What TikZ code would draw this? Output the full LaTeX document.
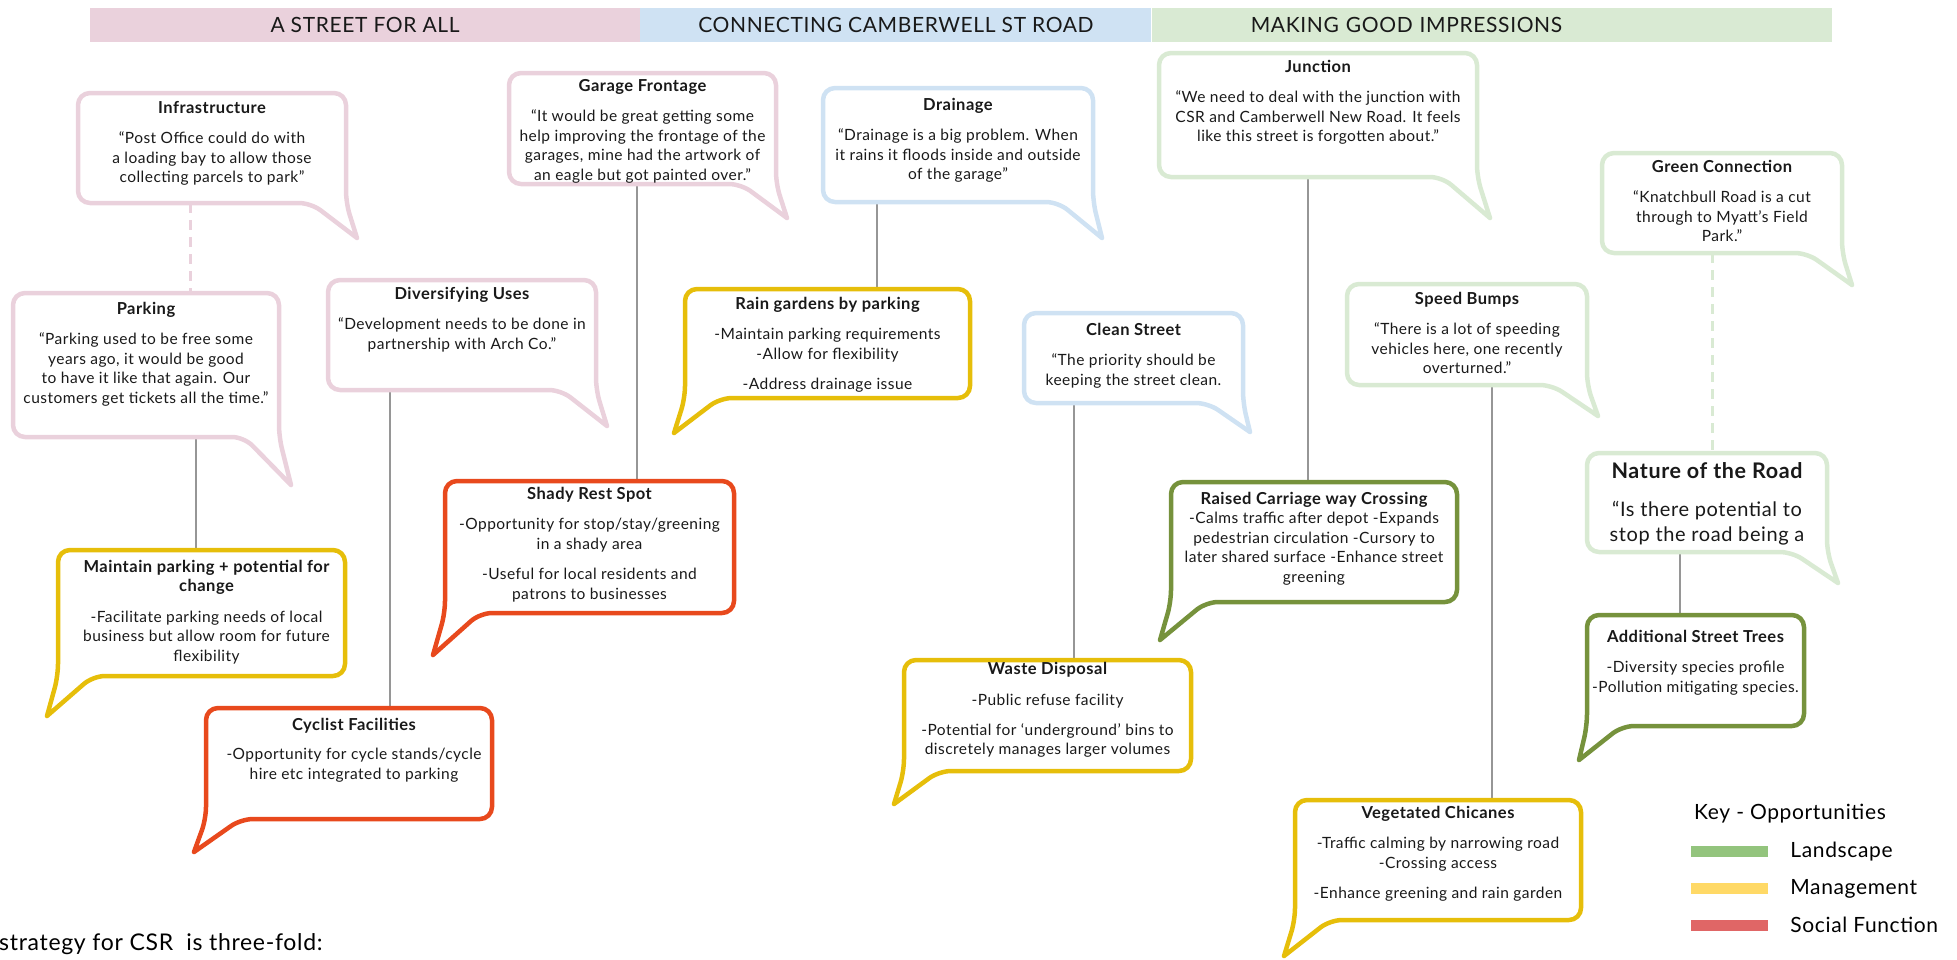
\documentclass[tikz,border=0pt]{standalone}
\usepackage{fontspec}
\setmainfont{Lato}[LetterSpace=3]
\usetikzlibrary{positioning, calc}
\definecolor{pinkline}{HTML}{EAD1DC}
\definecolor{blueline}{HTML}{CFE2F3}
\definecolor{greenline}{HTML}{D9EAD3}
\definecolor{goldline}{HTML}{E6BE0A}
\definecolor{redline}{HTML}{E8491D}
\definecolor{oliveline}{HTML}{76923C}
\definecolor{keygreen}{HTML}{93C47D}
\definecolor{keyyellow}{HTML}{FFD966}
\definecolor{keyred}{HTML}{E06666}
\definecolor{linkgrey}{RGB}{150,150,150}
\newcommand{\boxtitle}[1]{{\fontsize{16.5}{19.5}\selectfont\bfseries #1}}

\begin{document}
\begin{tikzpicture}[
  x=1pt, y=-1pt,
  box/.style={rectangle, inner sep=0pt, outer sep=0pt},
  bubble/.style={line width=4.5pt, rounded corners=12pt, line cap=round, line join=round},
  txt/.style={align=center, inner sep=0pt, text=black!90, font=\fontsize{15.5}{19.5}\selectfont},
  link/.style={draw=linkgrey, line width=2pt},
  dashlink/.style={line width=3pt, dash pattern=on 10pt off 7pt},
  bar/.style={rectangle, inner sep=0pt, minimum height=34pt, text=black!90, font=\fontsize{21}{24}\selectfont},
  swatch/.style={rectangle, inner sep=0pt, minimum width=77pt, minimum height=11.5pt},
  keytext/.style={inner sep=0pt, font=\fontsize{21}{24}\selectfont}
]
  \useasboundingbox (0,0) rectangle (1957,959);

  % headings
  \node[bar, fill=pinkline, minimum width=550pt] (street) at (365,24.5) {A STREET FOR ALL};
  \node[bar, fill=blueline, minimum width=511pt, right=0pt of street] (connect) {CONNECTING CAMBERWELL ST ROAD};
  \node[bar, fill=greenline, right=0pt of connect, text width=482pt, inner xsep=99pt, align=left] (impress) {MAKING GOOD IMPRESSIONS};

  % bubble bodies
  \node[box, minimum width=268pt, minimum height=110pt] (infra) at (212,148) {};
  \node[box, minimum width=266pt, minimum height=144pt] (parking) at (146,365) {};
  \node[box, minimum width=268pt, minimum height=110pt] (divers) at (462,335) {};
  \node[box, minimum width=267pt, minimum height=111pt] (garage) at (642.5,128.5) {};
  \node[box, minimum width=270pt, minimum height=114pt] (drain) at (958,145) {};
  \node[box, minimum width=285pt, minimum height=109pt] (rain) at (827.5,343.5) {};
  \node[box, minimum width=219pt, minimum height=90pt] (clean) at (1133.5,358) {};
  \node[box, minimum width=318pt, minimum height=124pt] (junction) at (1318,115) {};
  \node[box, minimum width=240pt, minimum height=100pt] (greenconn) at (1722,203) {};
  \node[box, minimum width=240pt, minimum height=101pt] (bumps) at (1467,334.5) {};
  \node[box, minimum width=240pt, minimum height=99pt] (nature) at (1707,502.5) {};
  \node[box, minimum width=287pt, minimum height=126pt] (maintain) at (201.5,613) {};
  \node[box, minimum width=289pt, minimum height=132pt] (shady) at (589.5,547) {};
  \node[box, minimum width=286pt, minimum height=111pt] (cyclist) at (349,763.5) {};
  \node[box, minimum width=287pt, minimum height=111pt] (waste) at (1047.5,715.5) {};
  \node[box, minimum width=286pt, minimum height=120pt] (crossing) at (1314,542) {};
  \node[box, minimum width=286pt, minimum height=120pt] (chicanes) at (1438,860) {};
  \node[box, minimum width=217pt, minimum height=111pt] (trees) at (1695.5,670.5) {};

  % links
  \draw[dashlink, pinkline] ([xshift=-22pt]infra.south) -- ([xshift=-22pt]infra.south |- parking.north);
  \draw[link] ([xshift=50pt]parking.south) -- ([xshift=50pt]parking.south |- maintain.north);
  \draw[link] ([xshift=-72pt]divers.south) -- ([xshift=-72pt]divers.south |- cyclist.north);
  \draw[link] ([xshift=-5.5pt]garage.south) -- ([xshift=-5.5pt]garage.south |- shady.north);
  \draw[link] ([xshift=-81pt]drain.south) -- ([xshift=-81pt]drain.south |- rain.north);
  \draw[link] ([xshift=-59.5pt]clean.south) -- ([xshift=-59.5pt]clean.south |- waste.north);
  \draw[link] ([xshift=-10pt]junction.south) -- ([xshift=-10pt]junction.south |- crossing.north);
  \draw[link] ([xshift=25pt]bumps.south) -- ([xshift=25pt]bumps.south |- chicanes.north);
  \draw[dashlink, greenline] ([xshift=-10pt]greenconn.south) -- ([xshift=-10pt]greenconn.south |- nature.north);
  \draw[link] ([xshift=-27pt]nature.south) -- ([xshift=-27pt]nature.south |- trees.north);

  % outlines, tail on the right
  \draw[bubble, pinkline] ($(infra.south east)+(11,35)$) -- ($(infra.south east)+(-35,0)$) -- (infra.south west) -- (infra.north west) -- (infra.north east) -- (infra.south east) -- ($(infra.south east)+(11,35)$);
  \draw[bubble, pinkline] ($(parking.south east)+(12,48)$) -- ($(parking.south east)+(-35,0)$) -- (parking.south west) -- (parking.north west) -- (parking.north east) -- (parking.south east) -- ($(parking.south east)+(12,48)$);
  \draw[bubble, pinkline] ($(divers.south east)+(11,36)$) -- ($(divers.south east)+(-35,0)$) -- (divers.south west) -- (divers.north west) -- (divers.north east) -- (divers.south east) -- ($(divers.south east)+(11,36)$);
  \draw[bubble, pinkline] ($(garage.south east)+(11,34)$) -- ($(garage.south east)+(-35,0)$) -- (garage.south west) -- (garage.north west) -- (garage.north east) -- (garage.south east) -- ($(garage.south east)+(11,34)$);
  \draw[bubble, blueline] ($(drain.south east)+(9,36)$) -- ($(drain.south east)+(-35,0)$) -- (drain.south west) -- (drain.north west) -- (drain.north east) -- (drain.south east) -- ($(drain.south east)+(9,36)$);
  \draw[bubble, blueline] ($(clean.south east)+(7,29)$) -- ($(clean.south east)+(-35,0)$) -- (clean.south west) -- (clean.north west) -- (clean.north east) -- (clean.south east) -- ($(clean.south east)+(7,29)$);
  \draw[bubble, greenline] ($(junction.south east)+(13,41)$) -- ($(junction.south east)+(-35,0)$) -- (junction.south west) -- (junction.north west) -- (junction.north east) -- (junction.south east) -- ($(junction.south east)+(13,41)$);
  \draw[bubble, greenline] ($(greenconn.south east)+(10,32)$) -- ($(greenconn.south east)+(-35,0)$) -- (greenconn.south west) -- (greenconn.north west) -- (greenconn.north east) -- (greenconn.south east) -- ($(greenconn.south east)+(10,32)$);
  \draw[bubble, greenline] ($(bumps.south east)+(11,31)$) -- ($(bumps.south east)+(-35,0)$) -- (bumps.south west) -- (bumps.north west) -- (bumps.north east) -- (bumps.south east) -- ($(bumps.south east)+(11,31)$);
  \draw[bubble, greenline] ($(nature.south east)+(11,31)$) -- ($(nature.south east)+(-35,0)$) -- (nature.south west) -- (nature.north west) -- (nature.north east) -- (nature.south east) -- ($(nature.south east)+(11,31)$);

  % outlines, tail on the left
  \draw[bubble, goldline] ($(rain.south west)+(-11,35)$) -- ($(rain.south west)+(35,0)$) -- (rain.south east) -- (rain.north east) -- (rain.north west) -- (rain.south west) -- ($(rain.south west)+(-11,35)$);
  \draw[bubble, goldline] ($(maintain.south west)+(-11,40)$) -- ($(maintain.south west)+(35,0)$) -- (maintain.south east) -- (maintain.north east) -- (maintain.north west) -- (maintain.south west) -- ($(maintain.south west)+(-11,40)$);
  \draw[bubble, redline] ($(shady.south west)+(-12,42)$) -- ($(shady.south west)+(35,0)$) -- (shady.south east) -- (shady.north east) -- (shady.north west) -- (shady.south west) -- ($(shady.south west)+(-12,42)$);
  \draw[bubble, redline] ($(cyclist.south west)+(-12,33)$) -- ($(cyclist.south west)+(35,0)$) -- (cyclist.south east) -- (cyclist.north east) -- (cyclist.north west) -- (cyclist.south west) -- ($(cyclist.south west)+(-12,33)$);
  \draw[bubble, goldline] ($(waste.south west)+(-10,33)$) -- ($(waste.south west)+(35,0)$) -- (waste.south east) -- (waste.north east) -- (waste.north west) -- (waste.south west) -- ($(waste.south west)+(-10,33)$);
  \draw[bubble, oliveline] ($(crossing.south west)+(-11,38)$) -- ($(crossing.south west)+(35,0)$) -- (crossing.south east) -- (crossing.north east) -- (crossing.north west) -- (crossing.south west) -- ($(crossing.south west)+(-11,38)$);
  \draw[bubble, goldline] ($(chicanes.south west)+(-11,36)$) -- ($(chicanes.south west)+(35,0)$) -- (chicanes.south east) -- (chicanes.north east) -- (chicanes.north west) -- (chicanes.south west) -- ($(chicanes.south west)+(-11,36)$);
  \draw[bubble, oliveline] ($(trees.south west)+(-8,34)$) -- ($(trees.south west)+(35,0)$) -- (trees.south east) -- (trees.north east) -- (trees.north west) -- (trees.south west) -- ($(trees.south west)+(-8,34)$);

  % texts
  \node[txt, below=8pt of infra.north] (infra-t) {\boxtitle{Infrastructure}\\[11pt]“Post Office could do with\\a loading bay to allow those\\collecting parcels to park”};
  \node[txt, below=9pt of parking.north] (parking-t) {\boxtitle{Parking}\\[11pt]“Parking used to be free some\\years ago, it would be good\\to have it like that again. Our\\customers get tickets all the time.”};
  \node[txt, below=7pt of divers.north] (divers-t) {\boxtitle{Diversifying Uses}\\[11pt]“Development needs to be done in\\partnership with Arch Co.”};
  \node[txt, below=6pt of garage.north] (garage-t) {\boxtitle{Garage Frontage}\\[11pt]“It would be great getting some\\help improving the frontage of the\\garages, mine had the artwork of\\an eagle but got painted over.”};
  \node[txt, below=10pt of drain.north] (drain-t) {\boxtitle{Drainage}\\[11pt]“Drainage is a big problem. When\\it rains it floods inside and outside\\of the garage”};
  \node[txt, below=8pt of rain.north] (rain-t) {\boxtitle{Rain gardens by parking}\\[11pt]-Maintain parking requirements\\-Allow for flexibility\\[11pt]-Address drainage issue};
  \node[txt, below=10pt of clean.north] (clean-t) {\boxtitle{Clean Street}\\[11pt]“The priority should be\\keeping the street clean.};
  \node[txt, below=7pt of junction.north] (junction-t) {\boxtitle{Junction}\\[11pt]“We need to deal with the junction with\\CSR and Camberwell New Road. It feels\\like this street is forgotten about.”};
  \node[txt, below=7pt of greenconn.north] (greenconn-t) {\boxtitle{Green Connection}\\[11pt]“Knatchbull Road is a cut\\through to Myatt’s Field\\Park.”};
  \node[txt, below=8pt of bumps.north] (bumps-t) {\boxtitle{Speed Bumps}\\[11pt]“There is a lot of speeding\\vehicles here, one recently\\overturned.”};
  \node[txt, font=\fontsize{20}{25}\selectfont, below=9pt of nature.north] (nature-t) {{\fontsize{21.5}{25}\selectfont\bfseries Nature of the Road}\\[13pt]“Is there potential to\\stop the road being a};
  \node[txt, below=10pt of maintain.north, xshift=5pt] (maintain-t) {\boxtitle{Maintain parking + potential for}\\\boxtitle{change}\\[11pt]-Facilitate parking needs of local\\business but allow room for future\\flexibility};
  \node[txt, below=6pt of shady.north] (shady-t) {\boxtitle{Shady Rest Spot}\\[11pt]-Opportunity for stop/stay/greening\\in a shady area\\[11pt]-Useful for local residents and\\patrons to businesses};
  \node[txt, below=10pt of cyclist.north, xshift=5pt] (cyclist-t) {\boxtitle{Cyclist Facilities}\\[10pt]-Opportunity for cycle stands/cycle\\hire etc integrated to parking};
  \node[txt, below=2pt of waste.north] (waste-t) {\boxtitle{Waste Disposal}\\[12pt]-Public refuse facility\\[10pt]-Potential for ‘underground’ bins to\\discretely manages larger volumes};
  \node[txt, below=10pt of crossing.north] (crossing-t) {\boxtitle{Raised Carriage way Crossing}\\-Calms traffic after depot -Expands\\pedestrian circulation -Cursory to\\later shared surface -Enhance street\\greening};
  \node[txt, below=6pt of chicanes.north] (chicanes-t) {\boxtitle{Vegetated Chicanes}\\[11pt]-Traffic calming by narrowing road\\-Crossing access\\[11pt]-Enhance greening and rain garden};
  \node[txt, below=15pt of trees.north] (trees-t) {\boxtitle{Additional Street Trees}\\[11pt]-Diversity species profile\\-Pollution mitigating species.};

  % key
  \node[keytext, anchor=base west] (key) at (1694,819) {Key - Opportunities};
  \node[swatch, fill=keygreen] (land) at (1729.5,851.5) {};
  \node[swatch, fill=keyyellow, below=25pt of land] (manage) {};
  \node[swatch, fill=keyred, below=25pt of manage] (social) {};
  \node[keytext, right=22pt of land] (land-t) {Landscape};
  \node[keytext, right=22pt of manage] (manage-t) {Management};
  \node[keytext, right=22pt of social] (social-t) {Social Function};

  \node[inner sep=0pt, anchor=base west, font=\fontsize{23}{27}\selectfont] (strategy) at (-1,950) {strategy for CSR\ \ is three-fold:};
\end{tikzpicture}
\end{document}
